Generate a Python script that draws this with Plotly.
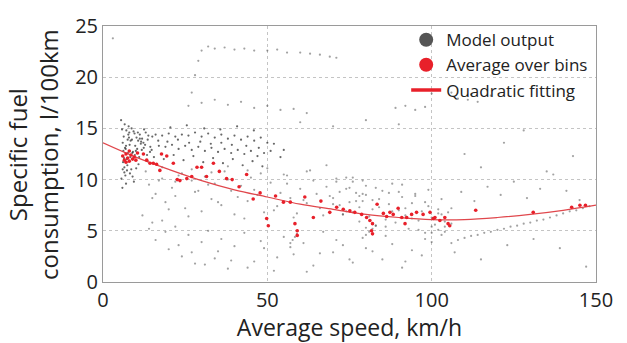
import plotly.graph_objects as go

# ---- gray "Model output" dots, grouped by region ----
fan_x = [5.5,5.8,6.0,6.2,6.5,6.8,7.0,7.3,7.5,7.8,8.0,8.3,8.6,9.0,9.4,9.8,10.2,10.7,11.2,11.8,12.4,13.0,13.6,14.3,15.0,
         5.6,6.1,6.6,7.1,7.6,8.1,8.7,9.3,10.0,10.8,11.6,12.5,13.4,14.4,
         5.9,6.4,6.9,7.4,8.2,9.1,10.1,11.2,12.3,13.5,14.8,
         6.3,6.7,7.2,7.7,8.4,8.9,9.6,10.4,11.0,11.9,12.8,13.8,6.0,6.5,7.0,7.9,8.8,9.7,10.6,11.5]
fan_y = [15.8,14.9,13.6,12.8,11.2,10.4,9.6,10.9,13.9,15.2,14.6,12.2,11.0,10.3,9.8,13.3,14.1,13.8,14.4,12.9,13.1,14.6,13.9,12.7,14.2,
         10.1,11.7,15.4,14.8,12.6,13.4,15.0,14.7,12.8,11.5,13.7,14.9,12.4,13.2,
         9.2,12.1,13.0,11.4,10.6,12.7,11.1,14.0,13.6,11.8,12.9,
         14.2,13.1,12.0,14.4,13.8,12.6,14.5,13.0,12.2,14.0,13.4,14.3,11.0,10.7,13.3,14.1,13.9,12.4,14.6,13.5]

band_x = [16,18,20,22,24,26,28,30,32,34,36,38,40,42,44,46,48,50,
          17,19,21,23,25,27,29,31,33,35,37,39,41,43,45,47,49,
          15.5,18.5,21.5,24.5,27.5,30.5,33.5,36.5,39.5,42.5,45.5,48.5,
          20.5,25.5,30.8,35.7,40.8,45.9,52,55,
          16.8,19.6,22.8,26.2,29.6,32.8,36.0,39.2,43.6,47.4,51.0,54.0]
band_y = [14.4,14.3,14.5,14.2,14.4,14.3,14.6,14.2,14.5,14.1,14.4,14.0,14.3,13.9,14.2,13.8,14.1,13.6,
          13.3,13.2,13.4,13.0,13.3,12.9,13.2,12.8,13.1,12.7,13.0,12.6,12.9,12.5,12.8,12.3,12.6,
          12.2,12.0,12.4,11.9,12.3,11.7,12.1,11.6,12.0,11.4,11.8,11.3,
          15.1,15.3,15.0,14.9,15.2,14.8,13.5,12.9,
          13.8,13.7,13.9,13.6,13.7,13.5,13.6,13.4,13.3,13.1,12.8,12.2]

mid_x = [14,16,18,19,21,22,24,25,27,28,30,31,33,34,36,37,39,40,42,44,45,47,49,51,53,55,57,58,60,62,63,65,67,68,70,72,74,76,78,80,
         15,17,20,23,26,29,32,35,38,41,43,46,48,52,54,56,59,61,64,66,69,71,73,75,77,79,
         13,18,22,27,33,38,44,50,56,62,68,74]
mid_y = [9.5,8.6,10.1,7.8,9.2,8.4,10.6,7.2,9.9,8.8,6.9,10.3,8.1,9.6,7.5,10.8,8.9,6.6,9.4,7.9,10.2,8.5,6.8,9.7,7.4,10.5,8.2,6.3,9.1,7.7,10.9,8.6,6.5,9.3,7.6,8.8,6.9,9.8,7.3,8.5,
         8.2,9.9,7.1,10.4,6.4,8.9,9.5,7.8,10.0,8.3,6.2,9.0,10.6,7.0,8.7,9.6,6.7,8.0,9.9,7.2,8.4,10.1,6.6,9.2,7.9,8.6,
         10.8,11.2,9.8,11.0,10.7,11.3,10.9,11.1,10.4,10.8,11.4,10.2]

low_x = [12,14,16,18,20,22,24,26,28,30,32,34,36,38,40,43,46,49,52,55,58,61,64,67,70,73,76,79,82,85,88,91,94,97,100,103,
         15,19,23,27,31,35,39,44,48,53,57,62,66,71,75,80,86,92,98]
low_y = [6.5,5.2,4.1,6.0,3.2,5.4,2.5,4.6,1.8,3.9,5.0,2.3,4.2,1.3,3.5,4.8,2.0,3.3,1.1,4.4,2.7,3.8,1.6,4.9,2.9,3.6,1.9,4.3,3.0,2.2,3.7,1.4,3.1,2.6,3.9,4.6,
         5.8,4.9,3.6,2.9,1.7,3.0,2.1,1.4,4.0,2.4,3.4,1.0,2.8,4.1,2.2,3.3,4.5,2.0,4.2]

dense_x = [70,72,74,76,77,78,79,80,81,82,83,84,85,86,87,88,89,90,91,92,93,94,95,96,97,98,99,100,101,102,103,104,105,106,
           71,73,75,78,80,82,84,86,88,90,92,94,96,98,100,102,104,
           76,79,83,87,91,95,99,103,
           57,57.7,58.4,59,80,81,82,83,100,102,104,106]
dense_y = [8.2,7.5,9.1,6.8,8.7,5.9,7.9,9.4,6.4,8.0,5.5,7.3,8.9,6.1,7.6,9.6,5.8,7.0,8.3,6.5,5.2,7.7,8.6,6.0,6.9,4.8,7.4,6.3,5.6,7.1,6.6,5.9,6.8,7.2,
           9.8,6.6,7.8,8.4,5.3,7.1,8.1,5.4,6.9,8.8,7.2,6.2,5.1,7.8,5.4,6.7,4.9,
           10.2,9.9,9.2,8.7,9.5,8.4,9.0,8.1,
           3.8,4.1,4.4,4.7,4.6,4.9,5.2,5.5,4.8,5.1,5.4,5.7]

upper_x = [27,28,29,30,32,34,37,40,43,46,50,53,56,60,63,66,69,71,
           26,30,34,38,42,46,50,54,58,62,
           89,92,95,98,108,111,114,100,106,112,118,60,70,80,90,3]
upper_y = [18.5,20.2,21.6,22.6,23.0,22.8,22.9,22.7,22.8,22.6,22.6,22.7,22.4,22.4,22.3,22.2,22.0,21.9,
           17.2,17.5,17.8,17.3,17.6,17.0,17.2,16.8,16.9,16.5,
           17.0,17.2,16.8,17.1,17.9,17.8,17.6,18.4,18.5,18.3,18.2,15.6,15.2,15.8,15.4,23.8]

right_x = [106,108,110,112,114,116,118,120,122,124,126,128,130,132,134,136,138,140,142,144,146,148,
           109,113,117,121,125,129,133,137,141,145,
           107,115,123,131,139,147,110,115,122,128,135,143]
right_y = [3.8,4.1,4.3,4.5,4.6,4.8,4.9,5.1,5.2,5.4,5.5,5.7,5.8,6.0,6.1,6.3,6.5,6.7,6.9,7.0,7.2,7.4,
           8.8,7.9,9.3,8.5,9.8,8.2,9.1,10.5,8.9,8.0,
           2.9,2.2,3.6,4.2,3.3,1.5,12.5,11.2,13.6,14.8,10.8,12.3]

# ---- red "Average over bins" dots ----
avg_x = [6,6.5,7,7.5,8,8.5,9,9.5,10,10.5,7,8,12.3,13.3,14.3,15.3,16.3,17.3,17.8,19.4,21.4,22.6,23.4,25.5,27.0,28.6,30.0,31.5,
         33.6,35.4,37.6,39.3,41.4,43.7,45.7,47.8,49.8,50.3,52.5,54.9,57.0,58.4,59.1,59.1,61.4,64.0,66.3,69.0,71.1,73.1,75.1,
         76.6,78.7,80.2,81.2,82.0,81.7,82.0,83.4,85.3,86.3,87.3,88.3,89.8,90.9,91.9,92.4,93.9,95.4,97.4,99.5,100.5,101.0,
         102.5,104.0,105.0,105.5,113.4,130.9,142.6,145.1,146.8]
avg_y = [12.3,11.9,12.5,12.1,11.8,12.4,12.0,12.2,11.9,12.6,11.7,12.8,12.5,11.9,11.6,11.6,11.5,10.9,12.5,12.3,11.6,10.0,9.9,10.1,
         10.3,11.2,11.2,10.3,11.6,10.8,10.1,10.0,9.3,10.5,8.1,8.7,6.2,5.5,8.4,7.8,7.8,5.7,5.0,4.55,8.3,6.3,7.9,6.8,7.3,7.1,6.95,
         6.8,6.6,6.3,6.0,5.7,5.0,4.7,7.6,6.7,6.4,6.8,6.6,7.2,6.3,5.7,6.3,6.6,6.8,6.6,6.8,6.2,6.3,6.0,6.3,5.7,5.5,7.0,6.8,
         7.3,7.5,7.5]

# ---- "Quadratic fitting" curve, values read at 10 km/h steps ----
fit_x = [0,10,20,30,40,50,60,70,80,90,100,110,120,130,140,150]
fit_y = [13.6,12.2,11.0,9.9,9.0,8.3,7.6,7.1,6.6,6.3,6.1,6.1,6.3,6.6,7.0,7.5]

x_ticks = [0, 50, 100, 150]
y_ticks = [0, 5, 10, 15, 20, 25]

gray = "rgba(70,70,70,0.5)"
dark = "rgba(40,40,40,0.7)"
red = "#e8202a"

fig = go.Figure()
groups = [(fan_x, fan_y, dark), (band_x, band_y, dark), (mid_x, mid_y, gray), (low_x, low_y, gray),
          (dense_x, dense_y, gray), (upper_x, upper_y, gray), (right_x, right_y, gray)]
for gx, gy, col in groups:
    fig.add_trace(go.Scatter(x=gx, y=gy, mode="markers", showlegend=False,
                             marker=dict(size=2.2, color=col), hoverinfo="skip"))
fig.add_trace(go.Scatter(x=fit_x, y=fit_y, mode="lines", showlegend=False,
                         line=dict(color="#e0474c", width=1.2, shape="spline")))
fig.add_trace(go.Scatter(x=avg_x, y=avg_y, mode="markers", showlegend=False,
                         marker=dict(size=3.6, color=red)))
# legend entries
fig.add_trace(go.Scatter(x=[None], y=[None], mode="markers", name="Model output",
                         marker=dict(size=14, color="#555555")))
fig.add_trace(go.Scatter(x=[None], y=[None], mode="markers", name="Average over bins",
                         marker=dict(size=14, color=red)))
fig.add_trace(go.Scatter(x=[None], y=[None], mode="lines", name="Quadratic fitting",
                         line=dict(color=red, width=3.5)))

font = "Open Sans, Noto Sans, sans-serif"
axis_common = dict(showline=True, mirror=True, linecolor="#9a9a9a", linewidth=1,
                   showgrid=True, gridcolor="#c4c4c4", griddash="dot", gridwidth=1,
                   zeroline=False, ticks="", tickfont=dict(size=20, color="#222", family=font))
fig.update_layout(
    width=627, height=343,
    margin=dict(l=103, r=31, t=18, b=56),
    paper_bgcolor="white", plot_bgcolor="white",
    font=dict(family=font, color="#222"),
    xaxis=dict(range=[0, 150], tickvals=x_ticks,
               title=dict(text="Average speed, km/h", font=dict(size=23), standoff=2),
               **axis_common),
    yaxis=dict(range=[0, 25], tickvals=y_ticks, **axis_common),
    legend=dict(x=0.615, y=1.015, xanchor="left", yanchor="top", bgcolor="rgba(0,0,0,0)",
                font=dict(size=17, family=font, color="#222"), tracegroupgap=0),
    annotations=[dict(text="Specific fuel<br>consumption, l/100km", xref="paper", yref="paper",
                      x=-0.142, y=0.5, xanchor="center", yanchor="middle", textangle=-90,
                      showarrow=False, font=dict(size=24, family=font, color="#222"))],
)
fig.write_html("out.html")
